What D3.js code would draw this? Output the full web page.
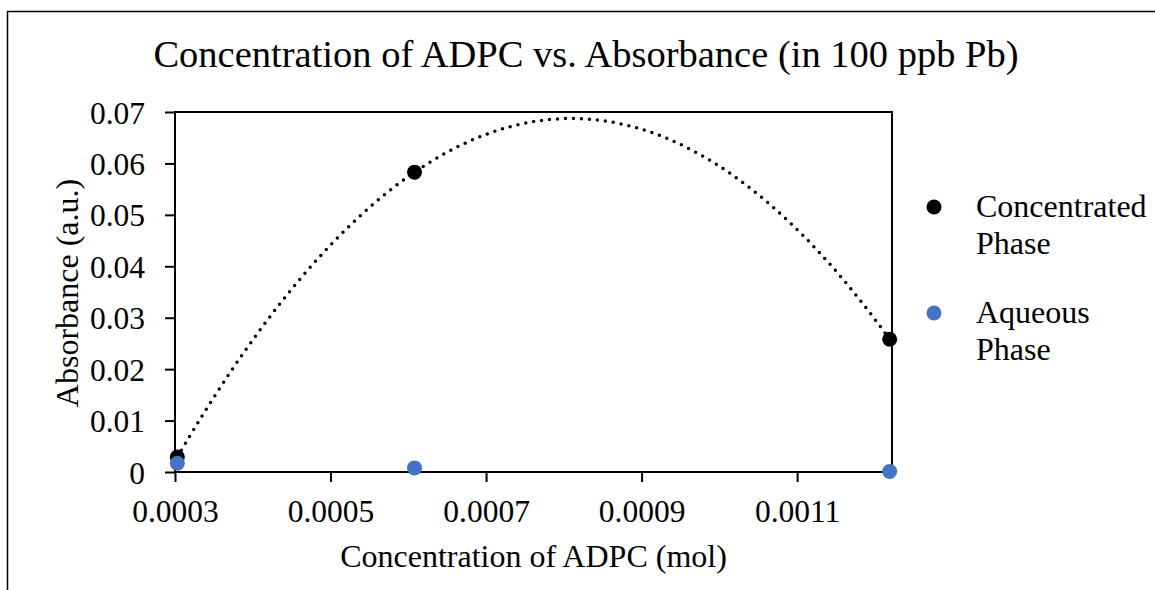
<!DOCTYPE html>
<html>
<head>
<meta charset="utf-8">
<script src="https://cdn.jsdelivr.net/npm/d3@7"></script>
<style>
  body { margin: 0; background: #fff; }
  svg { display: block; font-family: "Liberation Serif", "Times New Roman", serif; }
</style>
</head>
<body>
<div id="chart"></div>
<script>
// values
const adpcMol = [0.000303, 0.000608, 0.001219];
const concentratedAbs = [0.0029, 0.0583, 0.0258];
const aqueousAbs = [0.0017, 0.0008, 0.0001];
const xTicks = [0.0003, 0.0005, 0.0007, 0.0009, 0.0011];
const yTicks = [0, 0.01, 0.02, 0.03, 0.04, 0.05, 0.06, 0.07];
const seriesNames = ['Concentrated Phase', 'Aqueous Phase'];

const W = 1155, H = 590;
const plot = { left: 175, top: 112, right: 892, bottom: 472 };

const svg = d3.select('#chart').append('svg')
  .attr('width', W)
  .attr('height', H);

// outer chart frame (runs off right and bottom)
svg.append('rect')
  .attr('x', 7.5).attr('y', 11.5)
  .attr('width', 1300).attr('height', 800)
  .attr('fill', 'none')
  .attr('stroke', '#000')
  .attr('stroke-width', 1.5);

const x = d3.scaleLinear()
  .domain([0.0003, 0.001222])
  .range([plot.left, plot.right]);

const y = d3.scaleLinear()
  .domain([0, 0.07])
  .range([plot.bottom, plot.top]);

// title
svg.append('text')
  .attr('x', 586).attr('y', 67)
  .attr('text-anchor', 'middle')
  .attr('font-size', 38.5)
  .text('Concentration of ADPC vs. Absorbance (in 100 ppb Pb)');

// axes
const xAxis = svg.append('g')
  .attr('transform', `translate(0,${plot.bottom})`)
  .call(d3.axisBottom(x).tickValues(xTicks).tickSize(10).tickPadding(18).tickFormat(d3.format('.4f')));
const yAxis = svg.append('g')
  .attr('transform', `translate(${plot.left},0)`)
  .call(d3.axisLeft(y).tickValues(yTicks).tickSize(10).tickPadding(20).tickFormat(d => d === 0 ? '0' : d3.format('.2f')(d)));

[xAxis, yAxis].forEach(a => {
  a.select('.domain').remove();
  a.selectAll('line').attr('stroke', '#000').attr('stroke-width', 2);
  a.selectAll('text')
    .attr('font-family', '"Liberation Serif", "Times New Roman", serif')
    .attr('font-size', 31.5)
    .attr('fill', '#000');
});
xAxis.selectAll('text').attr('dy', '0.71em');
yAxis.selectAll('text').attr('dy', '0.35em');

// plot border
svg.append('rect')
  .attr('x', plot.left).attr('y', plot.top)
  .attr('width', plot.right - plot.left)
  .attr('height', plot.bottom - plot.top)
  .attr('fill', 'none')
  .attr('stroke', '#000')
  .attr('stroke-width', 2);

// axis titles
svg.append('text')
  .attr('x', (plot.left + plot.right) / 2).attr('y', 567)
  .attr('text-anchor', 'middle')
  .attr('font-size', 32)
  .text('Concentration of ADPC (mol)');

svg.append('text')
  .attr('transform', `translate(78,${(plot.top + plot.bottom) / 2 + 1}) rotate(-90)`)
  .attr('text-anchor', 'middle')
  .attr('font-size', 32)
  .text('Absorbance (a.u.)');

// 2nd order polynomial trendline (least squares) for the concentrated phase
function polyFit2(xs, ys) {
  const n = xs.length;
  const s = k => d3.sum(xs, v => Math.pow(v, k));
  const t = k => d3.sum(xs, (v, i) => Math.pow(v, k) * ys[i]);
  const A = [[n, s(1), s(2)], [s(1), s(2), s(3)], [s(2), s(3), s(4)]];
  const b = [t(0), t(1), t(2)];
  // gaussian elimination
  for (let i = 0; i < 3; i++) {
    for (let j = i + 1; j < 3; j++) {
      const f = A[j][i] / A[i][i];
      for (let k = i; k < 3; k++) A[j][k] -= f * A[i][k];
      b[j] -= f * b[i];
    }
  }
  const c = [0, 0, 0];
  for (let i = 2; i >= 0; i--) {
    let v = b[i];
    for (let k = i + 1; k < 3; k++) v -= A[i][k] * c[k];
    c[i] = v / A[i][i];
  }
  return c;
}

const coef = polyFit2(adpcMol, concentratedAbs);
const xMin = d3.min(adpcMol), xMax = d3.max(adpcMol);
const curve = d3.range(0, 201).map(i => {
  const xv = xMin + (xMax - xMin) * i / 200;
  return [xv, coef[0] + coef[1] * xv + coef[2] * xv * xv];
});

svg.append('path')
  .datum(curve)
  .attr('fill', 'none')
  .attr('stroke', '#000')
  .attr('stroke-width', 3.5)
  .attr('stroke-linecap', 'round')
  .attr('stroke-dasharray', '0 8')
  .attr('d', d3.line().x(d => x(d[0])).y(d => y(d[1])));

// markers
svg.append('g').selectAll('circle')
  .data(adpcMol)
  .enter().append('circle')
  .attr('cx', d => x(d))
  .attr('cy', (d, i) => y(concentratedAbs[i]))
  .attr('r', 7.5)
  .attr('fill', '#000');

svg.append('g').selectAll('circle')
  .data(adpcMol)
  .enter().append('circle')
  .attr('cx', d => x(d))
  .attr('cy', (d, i) => y(aqueousAbs[i]))
  .attr('r', 7.5)
  .attr('fill', '#4472C4');

// legend
const legendColors = ['#000', '#4472C4'];
const legend = svg.append('g');
seriesNames.forEach((name, i) => {
  const top = 207 + i * 106;
  legend.append('circle')
    .attr('cx', 934).attr('cy', top)
    .attr('r', 7.5)
    .attr('fill', legendColors[i]);
  const words = name.split(' ');
  words.forEach((w, j) => {
    legend.append('text')
      .attr('x', 976).attr('y', top + 10 + j * 37)
      .attr('font-size', 32)
      .text(w);
  });
});
</script>
</body>
</html>
